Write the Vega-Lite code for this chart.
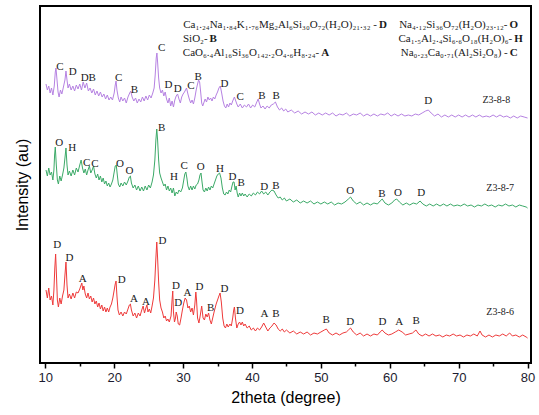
{
"$schema":"https://vega.github.io/schema/vega-lite/v6.json",
"width":491,"height":357,
"autosize":"none",
"padding":{"left":40,"top":6,"right":8,"bottom":52},
"background":"white",
"config":{"view":{"stroke":"black","strokeWidth":2}},
"encoding":{
 "x":{"field":"x","type":"quantitative","scale":{"domain":[9.23,80.5],"nice":false,"zero":false},
  "axis":{"title":"2theta (degree)","values":[10,15,20,25,30,35,40,45,50,55,60,65,70,75,80],
   "labelExpr":"datum.value % 10 === 0 ? format(datum.value,'d') : ''",
   "tickSize":{"condition":{"test":"datum.value % 10 === 0","value":5},"value":3},
   "tickWidth":1.5,"tickColor":"black","domain":false,"grid":false,
   "labelFont":"Liberation Sans","labelFontSize":13,"labelColor":"#1c1c30","labelPadding":3,
   "titleFont":"Liberation Sans","titleFontSize":16,"titleFontWeight":"normal","titleColor":"black","titlePadding":5}},
 "y":{"field":"y","type":"quantitative","scale":{"domain":[0,357],"nice":false,"zero":false},
  "axis":{"title":"Intensity (au)","ticks":false,"labels":false,"domain":false,"grid":false,
   "titleFont":"Liberation Sans","titleFontSize":16,"titleFontWeight":"normal","titleColor":"black","titlePadding":10}}
},
"layer":[
{"mark":{"type":"line","color":"#b682e2","strokeWidth":1},
 "data":{"values":[
{"x":10.1,"y":279},{"x":10.3,"y":273},{"x":10.5,"y":277},{"x":10.7,"y":270},{"x":10.9,"y":275},{"x":11.1,"y":268},{"x":11.3,"y":277},{"x":11.45,"y":291},{"x":11.55,"y":295},{"x":11.7,"y":283},{"x":11.85,"y":271},{"x":12.0,"y":266},{"x":12.2,"y":273},{"x":12.4,"y":269},{"x":12.6,"y":275},{"x":12.85,"y":283},{"x":13.0,"y":292},{"x":13.15,"y":283},{"x":13.3,"y":275},{"x":13.5,"y":279},{"x":13.75,"y":273},{"x":14.0,"y":277},{"x":14.25,"y":272},{"x":14.5,"y":278},{"x":14.75,"y":274},{"x":15.0,"y":279},{"x":15.25,"y":273},{"x":15.5,"y":281},{"x":15.75,"y":275},{"x":16.0,"y":280},{"x":16.25,"y":272},{"x":16.5,"y":275},{"x":16.75,"y":270},{"x":17.0,"y":274},{"x":17.25,"y":268},{"x":17.5,"y":272},{"x":17.75,"y":267},{"x":18.0,"y":271},{"x":18.25,"y":266},{"x":18.5,"y":269},{"x":18.75,"y":264},{"x":19.0,"y":268},{"x":19.25,"y":263},{"x":19.5,"y":266},{"x":19.75,"y":263},{"x":20.0,"y":270},{"x":20.15,"y":278},{"x":20.27,"y":282},{"x":20.4,"y":273},{"x":20.6,"y":265},{"x":20.8,"y":261},{"x":21.0,"y":266},{"x":21.25,"y":262},{"x":21.5,"y":265},{"x":21.75,"y":260},{"x":22.0,"y":266},{"x":22.25,"y":270},{"x":22.4,"y":272},{"x":22.6,"y":266},{"x":22.85,"y":262},{"x":23.1,"y":265},{"x":23.35,"y":260},{"x":23.6,"y":264},{"x":23.85,"y":261},{"x":24.1,"y":266},{"x":24.35,"y":262},{"x":24.6,"y":267},{"x":24.85,"y":263},{"x":25.1,"y":268},{"x":25.35,"y":265},{"x":25.6,"y":270},{"x":25.8,"y":275},{"x":25.95,"y":288},{"x":26.1,"y":305},{"x":26.2,"y":310},{"x":26.3,"y":301},{"x":26.45,"y":285},{"x":26.6,"y":275},{"x":26.8,"y":270},{"x":27.0,"y":273},{"x":27.2,"y":267},{"x":27.4,"y":271},{"x":27.6,"y":264},{"x":27.8,"y":260},{"x":28.0,"y":265},{"x":28.2,"y":257},{"x":28.4,"y":262},{"x":28.6,"y":256},{"x":28.8,"y":263},{"x":29.0,"y":267},{"x":29.2,"y":269},{"x":29.4,"y":264},{"x":29.6,"y":260},{"x":29.8,"y":266},{"x":30.0,"y":269},{"x":30.2,"y":271},{"x":30.5,"y":275},{"x":30.7,"y":269},{"x":30.9,"y":264},{"x":31.1,"y":260},{"x":31.3,"y":263},{"x":31.5,"y":259},{"x":31.7,"y":265},{"x":31.9,"y":273},{"x":32.1,"y":279},{"x":32.25,"y":283},{"x":32.4,"y":281},{"x":32.55,"y":271},{"x":32.7,"y":260},{"x":32.85,"y":257},{"x":33.0,"y":260},{"x":33.2,"y":264},{"x":33.4,"y":261},{"x":33.6,"y":266},{"x":33.8,"y":263},{"x":34.0,"y":265},{"x":34.2,"y":262},{"x":34.4,"y":266},{"x":34.6,"y":264},{"x":34.8,"y":268},{"x":35.0,"y":271},{"x":35.2,"y":275},{"x":35.4,"y":277},{"x":35.6,"y":270},{"x":35.8,"y":262},{"x":36.0,"y":257},{"x":36.2,"y":255},{"x":36.4,"y":259},{"x":36.6,"y":256},{"x":36.8,"y":260},{"x":37.0,"y":258},{"x":37.2,"y":262},{"x":37.45,"y":266},{"x":37.6,"y":263},{"x":37.8,"y":259},{"x":38.0,"y":256},{"x":38.3,"y":259},{"x":38.6,"y":255},{"x":38.9,"y":258},{"x":39.2,"y":256},{"x":39.5,"y":259},{"x":39.8,"y":255},{"x":40.1,"y":258},{"x":40.4,"y":256},{"x":40.7,"y":261},{"x":40.9,"y":264},{"x":41.1,"y":259},{"x":41.3,"y":255},{"x":41.6,"y":257},{"x":41.9,"y":254},{"x":42.2,"y":257},{"x":42.5,"y":255},{"x":42.8,"y":258},{"x":43.1,"y":259},{"x":43.4,"y":261},{"x":43.7,"y":256},{"x":44.0,"y":253},{"x":44.3,"y":255},{"x":44.6,"y":252},{"x":44.9,"y":254},{"x":45.2,"y":251},{"x":45.7,"y":253},{"x":46.2,"y":250},{"x":46.7,"y":252},{"x":47.2,"y":249},{"x":47.7,"y":251},{"x":48.2,"y":249},{"x":48.7,"y":251},{"x":49.2,"y":248},{"x":49.7,"y":250},{"x":50.2,"y":248},{"x":50.7,"y":250},{"x":51.2,"y":248},{"x":51.7,"y":250},{"x":52.2,"y":247},{"x":52.7,"y":249},{"x":53.2,"y":248},{"x":53.7,"y":250},{"x":54.2,"y":247},{"x":54.7,"y":249},{"x":55.2,"y":248},{"x":55.7,"y":250},{"x":56.2,"y":247},{"x":56.7,"y":249},{"x":57.2,"y":247},{"x":57.7,"y":249},{"x":58.2,"y":247},{"x":58.7,"y":249},{"x":59.2,"y":248},{"x":59.7,"y":250},{"x":60.2,"y":247},{"x":60.7,"y":249},{"x":61.2,"y":247},{"x":61.7,"y":249},{"x":62.2,"y":247},{"x":62.7,"y":248},{"x":63.2,"y":247},{"x":63.7,"y":249},{"x":64.2,"y":248},{"x":64.7,"y":250},{"x":65.2,"y":252},{"x":65.6,"y":253},{"x":66.0,"y":250},{"x":66.5,"y":247},{"x":67.0,"y":249},{"x":67.5,"y":246},{"x":68.0,"y":248},{"x":68.5,"y":246},{"x":69.0,"y":248},{"x":69.5,"y":246},{"x":70.0,"y":248},{"x":70.5,"y":246},{"x":71.0,"y":248},{"x":71.5,"y":246},{"x":72.0,"y":248},{"x":72.5,"y":246},{"x":73.0,"y":248},{"x":73.5,"y":246},{"x":74.0,"y":247},{"x":74.5,"y":246},{"x":75.0,"y":248},{"x":75.5,"y":246},{"x":76.0,"y":248},{"x":76.5,"y":246},{"x":77.0,"y":247},{"x":77.5,"y":245},{"x":78.0,"y":247},{"x":78.5,"y":245},{"x":79.0,"y":247},{"x":79.5,"y":246},{"x":80.0,"y":245}
 ]}},
{"mark":{"type":"line","color":"#3caa68","strokeWidth":1},
 "data":{"values":[
{"x":10.1,"y":193},{"x":10.3,"y":187},{"x":10.5,"y":195},{"x":10.7,"y":188},{"x":10.9,"y":191},{"x":11.1,"y":183},{"x":11.25,"y":193},{"x":11.35,"y":208},{"x":11.45,"y":216},{"x":11.6,"y":198},{"x":11.75,"y":183},{"x":11.9,"y":179},{"x":12.1,"y":187},{"x":12.3,"y":182},{"x":12.5,"y":188},{"x":12.7,"y":195},{"x":12.85,"y":205},{"x":13.0,"y":215},{"x":13.15,"y":198},{"x":13.3,"y":188},{"x":13.5,"y":192},{"x":13.75,"y":187},{"x":14.0,"y":193},{"x":14.25,"y":188},{"x":14.5,"y":195},{"x":14.75,"y":191},{"x":15.0,"y":198},{"x":15.2,"y":203},{"x":15.4,"y":195},{"x":15.6,"y":190},{"x":15.8,"y":194},{"x":16.0,"y":188},{"x":16.2,"y":193},{"x":16.4,"y":197},{"x":16.6,"y":190},{"x":16.8,"y":193},{"x":17.0,"y":197},{"x":17.2,"y":189},{"x":17.4,"y":185},{"x":17.6,"y":189},{"x":17.8,"y":183},{"x":18.0,"y":187},{"x":18.2,"y":181},{"x":18.4,"y":185},{"x":18.6,"y":179},{"x":18.8,"y":182},{"x":19.0,"y":177},{"x":19.2,"y":180},{"x":19.4,"y":176},{"x":19.6,"y":179},{"x":19.8,"y":183},{"x":20.0,"y":191},{"x":20.15,"y":197},{"x":20.3,"y":198},{"x":20.45,"y":188},{"x":20.6,"y":179},{"x":20.8,"y":176},{"x":21.0,"y":180},{"x":21.25,"y":177},{"x":21.5,"y":181},{"x":21.75,"y":178},{"x":22.0,"y":182},{"x":22.2,"y":186},{"x":22.35,"y":187},{"x":22.5,"y":180},{"x":22.75,"y":175},{"x":23.0,"y":178},{"x":23.25,"y":173},{"x":23.5,"y":177},{"x":23.75,"y":172},{"x":24.0,"y":176},{"x":24.25,"y":172},{"x":24.5,"y":177},{"x":24.75,"y":173},{"x":25.0,"y":178},{"x":25.25,"y":175},{"x":25.5,"y":181},{"x":25.7,"y":188},{"x":25.9,"y":203},{"x":26.05,"y":223},{"x":26.18,"y":234},{"x":26.3,"y":223},{"x":26.45,"y":203},{"x":26.6,"y":190},{"x":26.8,"y":185},{"x":27.0,"y":181},{"x":27.2,"y":177},{"x":27.4,"y":179},{"x":27.6,"y":173},{"x":27.8,"y":177},{"x":28.0,"y":172},{"x":28.2,"y":175},{"x":28.4,"y":170},{"x":28.6,"y":175},{"x":28.8,"y":167},{"x":29.0,"y":171},{"x":29.2,"y":169},{"x":29.4,"y":173},{"x":29.65,"y":171},{"x":29.9,"y":175},{"x":30.1,"y":183},{"x":30.25,"y":189},{"x":30.4,"y":191},{"x":30.55,"y":185},{"x":30.7,"y":177},{"x":30.9,"y":173},{"x":31.1,"y":177},{"x":31.3,"y":173},{"x":31.5,"y":177},{"x":31.7,"y":174},{"x":31.9,"y":178},{"x":32.1,"y":179},{"x":32.3,"y":183},{"x":32.45,"y":188},{"x":32.6,"y":190},{"x":32.75,"y":181},{"x":32.9,"y":173},{"x":33.1,"y":171},{"x":33.3,"y":175},{"x":33.5,"y":172},{"x":33.7,"y":176},{"x":33.9,"y":173},{"x":34.1,"y":177},{"x":34.3,"y":175},{"x":34.5,"y":179},{"x":34.7,"y":183},{"x":34.9,"y":187},{"x":35.1,"y":189},{"x":35.3,"y":190},{"x":35.5,"y":185},{"x":35.7,"y":175},{"x":35.9,"y":169},{"x":36.1,"y":168},{"x":36.3,"y":171},{"x":36.5,"y":169},{"x":36.7,"y":173},{"x":36.9,"y":171},{"x":37.1,"y":177},{"x":37.25,"y":181},{"x":37.4,"y":181},{"x":37.55,"y":173},{"x":37.7,"y":177},{"x":37.85,"y":170},{"x":38.0,"y":166},{"x":38.2,"y":170},{"x":38.4,"y":167},{"x":38.6,"y":170},{"x":38.8,"y":167},{"x":39.0,"y":169},{"x":39.3,"y":166},{"x":39.6,"y":169},{"x":39.9,"y":167},{"x":40.2,"y":170},{"x":40.5,"y":168},{"x":40.8,"y":171},{"x":41.1,"y":169},{"x":41.4,"y":172},{"x":41.7,"y":169},{"x":42.0,"y":171},{"x":42.3,"y":168},{"x":42.6,"y":171},{"x":42.9,"y":173},{"x":43.2,"y":172},{"x":43.5,"y":168},{"x":43.8,"y":165},{"x":44.1,"y":166},{"x":44.4,"y":163},{"x":44.7,"y":165},{"x":45.0,"y":162},{"x":45.5,"y":164},{"x":46.0,"y":161},{"x":46.5,"y":163},{"x":47.0,"y":160},{"x":47.5,"y":162},{"x":48.0,"y":160},{"x":48.5,"y":162},{"x":49.0,"y":159},{"x":49.5,"y":161},{"x":50.0,"y":159},{"x":50.5,"y":161},{"x":51.0,"y":159},{"x":51.5,"y":161},{"x":52.0,"y":158},{"x":52.5,"y":160},{"x":53.0,"y":159},{"x":53.5,"y":161},{"x":54.0,"y":164},{"x":54.3,"y":166},{"x":54.7,"y":162},{"x":55.2,"y":159},{"x":55.7,"y":161},{"x":56.2,"y":158},{"x":56.7,"y":160},{"x":57.2,"y":158},{"x":57.7,"y":160},{"x":58.2,"y":159},{"x":58.6,"y":162},{"x":58.9,"y":164},{"x":59.3,"y":160},{"x":59.8,"y":158},{"x":60.3,"y":160},{"x":60.7,"y":163},{"x":61.0,"y":164},{"x":61.4,"y":161},{"x":61.9,"y":158},{"x":62.4,"y":160},{"x":62.9,"y":158},{"x":63.4,"y":160},{"x":63.9,"y":159},{"x":64.4,"y":162},{"x":64.8,"y":159},{"x":65.3,"y":157},{"x":65.8,"y":159},{"x":66.3,"y":157},{"x":66.8,"y":159},{"x":67.3,"y":157},{"x":67.8,"y":159},{"x":68.3,"y":157},{"x":68.8,"y":159},{"x":69.3,"y":157},{"x":69.8,"y":158},{"x":70.3,"y":157},{"x":70.8,"y":159},{"x":71.3,"y":157},{"x":71.8,"y":158},{"x":72.3,"y":156},{"x":72.8,"y":158},{"x":73.3,"y":157},{"x":73.8,"y":159},{"x":74.3,"y":157},{"x":74.8,"y":158},{"x":75.3,"y":156},{"x":75.8,"y":158},{"x":76.3,"y":157},{"x":76.8,"y":159},{"x":77.3,"y":157},{"x":77.8,"y":158},{"x":78.3,"y":156},{"x":78.8,"y":158},{"x":79.3,"y":157},{"x":79.8,"y":156},{"x":80.0,"y":155}
 ]}},
{"mark":{"type":"line","color":"#ee3a3a","strokeWidth":1},
 "data":{"values":[
{"x":10.1,"y":73},{"x":10.3,"y":65},{"x":10.5,"y":75},{"x":10.7,"y":63},{"x":10.9,"y":67},{"x":11.1,"y":58},{"x":11.25,"y":73},{"x":11.38,"y":95},{"x":11.5,"y":109},{"x":11.62,"y":88},{"x":11.75,"y":63},{"x":11.9,"y":56},{"x":12.1,"y":65},{"x":12.3,"y":59},{"x":12.5,"y":67},{"x":12.7,"y":73},{"x":12.85,"y":88},{"x":13.0,"y":101},{"x":13.15,"y":78},{"x":13.3,"y":65},{"x":13.5,"y":69},{"x":13.75,"y":64},{"x":14.0,"y":70},{"x":14.25,"y":65},{"x":14.5,"y":71},{"x":14.75,"y":70},{"x":15.0,"y":74},{"x":15.15,"y":77},{"x":15.3,"y":80},{"x":15.45,"y":73},{"x":15.6,"y":77},{"x":15.8,"y":69},{"x":16.0,"y":65},{"x":16.2,"y":70},{"x":16.4,"y":64},{"x":16.6,"y":67},{"x":16.8,"y":61},{"x":17.0,"y":65},{"x":17.2,"y":59},{"x":17.4,"y":62},{"x":17.6,"y":56},{"x":17.8,"y":60},{"x":18.0,"y":54},{"x":18.2,"y":58},{"x":18.4,"y":52},{"x":18.6,"y":56},{"x":18.8,"y":51},{"x":19.0,"y":55},{"x":19.2,"y":51},{"x":19.4,"y":56},{"x":19.6,"y":59},{"x":19.8,"y":65},{"x":20.0,"y":73},{"x":20.15,"y":79},{"x":20.27,"y":82},{"x":20.4,"y":67},{"x":20.55,"y":53},{"x":20.75,"y":48},{"x":21.0,"y":51},{"x":21.25,"y":47},{"x":21.5,"y":51},{"x":21.75,"y":49},{"x":22.0,"y":54},{"x":22.2,"y":58},{"x":22.35,"y":59},{"x":22.5,"y":53},{"x":22.75,"y":47},{"x":23.0,"y":50},{"x":23.25,"y":45},{"x":23.5,"y":50},{"x":23.75,"y":47},{"x":24.0,"y":53},{"x":24.2,"y":57},{"x":24.4,"y":50},{"x":24.6,"y":55},{"x":24.75,"y":58},{"x":24.9,"y":51},{"x":25.1,"y":54},{"x":25.3,"y":50},{"x":25.5,"y":57},{"x":25.7,"y":65},{"x":25.9,"y":83},{"x":26.05,"y":105},{"x":26.18,"y":121},{"x":26.3,"y":105},{"x":26.45,"y":81},{"x":26.6,"y":63},{"x":26.8,"y":55},{"x":27.0,"y":51},{"x":27.2,"y":45},{"x":27.4,"y":47},{"x":27.6,"y":42},{"x":27.8,"y":44},{"x":28.0,"y":41},{"x":28.25,"y":47},{"x":28.4,"y":63},{"x":28.5,"y":72},{"x":28.6,"y":51},{"x":28.75,"y":41},{"x":28.9,"y":45},{"x":29.0,"y":51},{"x":29.15,"y":47},{"x":29.3,"y":39},{"x":29.5,"y":38},{"x":29.7,"y":45},{"x":29.9,"y":53},{"x":30.1,"y":60},{"x":30.3,"y":65},{"x":30.5,"y":63},{"x":30.7,"y":55},{"x":30.9,"y":57},{"x":31.1,"y":51},{"x":31.3,"y":55},{"x":31.5,"y":48},{"x":31.7,"y":58},{"x":31.85,"y":71},{"x":31.95,"y":63},{"x":32.1,"y":45},{"x":32.3,"y":40},{"x":32.5,"y":48},{"x":32.7,"y":57},{"x":32.9,"y":45},{"x":33.1,"y":43},{"x":33.3,"y":49},{"x":33.5,"y":46},{"x":33.7,"y":50},{"x":33.9,"y":43},{"x":34.1,"y":39},{"x":34.3,"y":45},{"x":34.5,"y":51},{"x":34.8,"y":59},{"x":35.0,"y":63},{"x":35.2,"y":67},{"x":35.37,"y":70},{"x":35.55,"y":61},{"x":35.75,"y":45},{"x":35.95,"y":37},{"x":36.15,"y":35},{"x":36.35,"y":39},{"x":36.55,"y":36},{"x":36.8,"y":39},{"x":37.0,"y":37},{"x":37.2,"y":45},{"x":37.35,"y":53},{"x":37.45,"y":56},{"x":37.6,"y":45},{"x":37.8,"y":35},{"x":38.0,"y":39},{"x":38.2,"y":41},{"x":38.4,"y":38},{"x":38.6,"y":41},{"x":38.8,"y":37},{"x":39.0,"y":39},{"x":39.3,"y":35},{"x":39.6,"y":37},{"x":39.9,"y":33},{"x":40.2,"y":35},{"x":40.5,"y":32},{"x":40.8,"y":35},{"x":41.1,"y":33},{"x":41.4,"y":36},{"x":41.7,"y":40},{"x":42.0,"y":36},{"x":42.3,"y":32},{"x":42.6,"y":35},{"x":42.9,"y":37},{"x":43.2,"y":40},{"x":43.5,"y":38},{"x":43.8,"y":34},{"x":44.1,"y":32},{"x":44.4,"y":34},{"x":44.7,"y":31},{"x":45.0,"y":33},{"x":45.5,"y":30},{"x":46.0,"y":32},{"x":46.5,"y":29},{"x":47.0,"y":31},{"x":47.5,"y":29},{"x":48.0,"y":31},{"x":48.5,"y":28},{"x":49.0,"y":30},{"x":49.5,"y":29},{"x":50.0,"y":31},{"x":50.5,"y":33},{"x":50.8,"y":34},{"x":51.2,"y":30},{"x":51.7,"y":28},{"x":52.2,"y":30},{"x":52.7,"y":28},{"x":53.2,"y":30},{"x":53.7,"y":31},{"x":54.0,"y":33},{"x":54.3,"y":35},{"x":54.7,"y":31},{"x":55.2,"y":28},{"x":55.7,"y":30},{"x":56.2,"y":27},{"x":56.7,"y":29},{"x":57.2,"y":27},{"x":57.7,"y":29},{"x":58.2,"y":28},{"x":58.6,"y":31},{"x":58.9,"y":33},{"x":59.3,"y":30},{"x":59.8,"y":28},{"x":60.3,"y":29},{"x":60.8,"y":31},{"x":61.3,"y":33},{"x":61.8,"y":31},{"x":62.3,"y":28},{"x":62.8,"y":29},{"x":63.3,"y":30},{"x":63.8,"y":33},{"x":64.2,"y":29},{"x":64.7,"y":27},{"x":65.2,"y":29},{"x":65.7,"y":27},{"x":66.2,"y":29},{"x":66.7,"y":27},{"x":67.2,"y":28},{"x":67.7,"y":26},{"x":68.2,"y":28},{"x":68.7,"y":27},{"x":69.2,"y":29},{"x":69.7,"y":27},{"x":70.2,"y":28},{"x":70.7,"y":26},{"x":71.2,"y":28},{"x":71.7,"y":27},{"x":72.2,"y":29},{"x":72.7,"y":27},{"x":73.1,"y":32},{"x":73.4,"y":28},{"x":73.9,"y":26},{"x":74.4,"y":28},{"x":74.9,"y":26},{"x":75.4,"y":28},{"x":75.9,"y":27},{"x":76.4,"y":29},{"x":76.9,"y":27},{"x":77.4,"y":30},{"x":77.8,"y":27},{"x":78.3,"y":28},{"x":78.8,"y":26},{"x":79.3,"y":28},{"x":79.8,"y":26},{"x":80.0,"y":25}
 ]}},
{"mark":{"type":"text","font":"Liberation Serif","fontSize":11,"color":"#1a1a1a","baseline":"middle","align":"center"},
 "encoding":{"text":{"field":"t"}},
 "data":{"values":[
{"x":12.13,"y":296,"t":"C"},{"x":13.98,"y":291,"t":"D"},{"x":16.24,"y":285,"t":"DB"},{"x":20.66,"y":285,"t":"C"},{"x":22.92,"y":273,"t":"B"},{"x":26.9,"y":315,"t":"C"},{"x":27.86,"y":278,"t":"D"},{"x":29.23,"y":274,"t":"D"},{"x":31.12,"y":277,"t":"C"},{"x":32.18,"y":286,"t":"B"},{"x":36.0,"y":279,"t":"D"},{"x":38.27,"y":266,"t":"C"},{"x":41.43,"y":267,"t":"B"},{"x":43.5,"y":267,"t":"B"},{"x":65.58,"y":262,"t":"D"},
{"x":12.03,"y":220,"t":"O"},{"x":13.92,"y":215,"t":"H"},{"x":16.01,"y":200,"t":"C"},{"x":17.22,"y":199,"t":"C"},{"x":20.85,"y":199,"t":"O"},{"x":22.2,"y":192,"t":"O"},{"x":26.9,"y":235,"t":"B"},{"x":28.69,"y":186,"t":"H"},{"x":30.14,"y":197,"t":"C"},{"x":32.57,"y":196,"t":"O"},{"x":35.37,"y":194,"t":"H"},{"x":37.16,"y":186,"t":"D"},{"x":38.42,"y":180,"t":"B"},{"x":41.76,"y":176,"t":"D"},{"x":43.46,"y":177,"t":"B"},{"x":54.25,"y":172,"t":"O"},{"x":58.85,"y":169,"t":"B"},{"x":61.18,"y":170,"t":"O"},{"x":64.56,"y":170,"t":"D"},
{"x":11.74,"y":118,"t":"D"},{"x":13.49,"y":105,"t":"D"},{"x":15.43,"y":84,"t":"A"},{"x":21.1,"y":83,"t":"D"},{"x":22.88,"y":64,"t":"A"},{"x":24.62,"y":61,"t":"A"},{"x":26.99,"y":122,"t":"D"},{"x":28.98,"y":77,"t":"D"},{"x":29.31,"y":60,"t":"D"},{"x":30.62,"y":70,"t":"A"},{"x":32.36,"y":76,"t":"D"},{"x":34.02,"y":55,"t":"B"},{"x":36.0,"y":74,"t":"D"},{"x":38.27,"y":52,"t":"D"},{"x":41.8,"y":49,"t":"A"},{"x":43.46,"y":49,"t":"B"},{"x":50.76,"y":43,"t":"B"},{"x":54.25,"y":41,"t":"D"},{"x":58.94,"y":41,"t":"D"},{"x":61.37,"y":41,"t":"A"},{"x":63.84,"y":42,"t":"B"}
 ]}},
{"mark":{"type":"text","font":"Liberation Serif","fontSize":10,"color":"#1a1a1a","baseline":"middle","align":"center"},
 "encoding":{"text":{"field":"t"}},
 "data":{"values":[
{"x":75.46,"y":263,"t":"Z3-8-8"},{"x":76.03,"y":175,"t":"Z3-8-7"},{"x":76.03,"y":51,"t":"Z3-8-6"}
 ]}},
{"mark":{"type":"text","font":"Liberation Serif","fontSize":11,"color":"#1a1a1a","baseline":"middle","align":"right","dx":-2},
 "encoding":{"text":{"field":"f"}},
 "data":{"name":"legend","values":[
{"x":58.42,"y":338,"f":"Ca₁.₂₄Na₁.₈₄K₁.₇₆Mg₂Al₆Si₃₀O₇₂(H₂O)₂₁.₃₂ -","l":"D"},
{"x":33.85,"y":324,"f":"SiO₂-","l":"B"},
{"x":50.04,"y":310,"f":"CaO₆.₄Al₁₆Si₃₆O₁₄₂.₂O₄.₆H₈.₂₄-","l":"A"},
{"x":77.38,"y":338,"f":"Na₄.₁₂Si₃₆O₇₂(H₂O)₂₃.₁₂-","l":"O"},
{"x":78.07,"y":324,"f":"Ca₁.₅Al₂.₄Si₆.₆O₁₈(H₂O)₆-","l":"H"},
{"x":77.41,"y":310,"f":"Na₀.₂₃Ca₀.₇₁(Al₂Si₂O₈) -","l":"C"}
 ]}},
{"mark":{"type":"text","font":"Liberation Serif","fontSize":11,"fontWeight":"bold","color":"#1a1a1a","baseline":"middle","align":"left"},
 "encoding":{"text":{"field":"l"}},
 "data":{"name":"legend"}}
]
}
